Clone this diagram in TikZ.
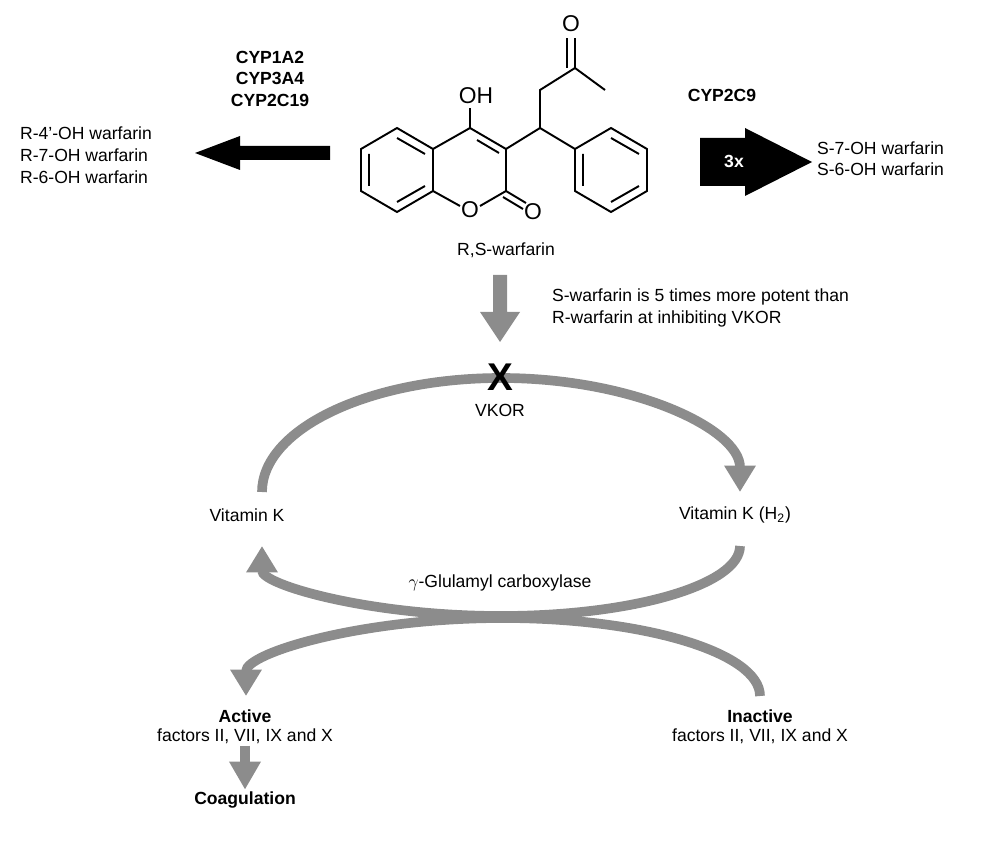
\documentclass[tikz,border=0pt]{standalone}
\usepackage{fontspec}
\setmainfont{Liberation Sans}
\usetikzlibrary{arrows.meta}
\definecolor{cyclegray}{HTML}{8C8C8C}
\tikzset{
  lbl/.style={font=\fontsize{10}{12}\selectfont, inner sep=1pt},
  enz/.style={lbl, font=\fontsize{10}{12}\selectfont\bfseries},
  bond/.style={line width=1.1pt},
  cycle/.style={cyclegray, line width=5.5pt, -{Triangle[length=15pt,width=17pt]}},
}
\begin{document}
\begin{tikzpicture}[x=0.02cm, y=-0.02cm, line join=miter]
\useasboundingbox (0,0) rectangle (1000,847);
% warfarin skeleton
\begin{scope}[bond]
\draw (397,128) -- (433,149) -- (433,191) -- (397,212) -- (361,191) -- (361,149) -- cycle;
\draw (397,138) -- (425,154) (425,186) -- (397,202) (369,186) -- (369,154);
\draw (433,149) -- (470,128) -- (506,149) -- (506,191) -- (480,206);
\draw (460,206) -- (433,191);
\draw (477,140) -- (499,153);
\draw (470,128) -- (470,108);
\draw (506,191) -- (526,203) (503,197) -- (523,209);
\draw (506,149) -- (540,128) -- (540,90) -- (575,68) -- (605,90);
\draw (575,68) -- (575,38) (567,68) -- (567,38);
\draw (540,128) -- (575,149);
\draw (611,128) -- (647,149) -- (647,191) -- (611,212) -- (575,191) -- (575,149) -- cycle;
\draw (583,154) -- (583,186) (611,138) -- (639,154) (639,186) -- (611,202);
\end{scope}
\node[lbl, font=\fontsize{13}{14}\selectfont] (oh) at (476,96) {OH};
\node[lbl, font=\fontsize{13}{14}\selectfont] (ring) at (470,210) {O};
\node[lbl, font=\fontsize{13}{14}\selectfont] (keto) at (533,212) {O};
\node[lbl, font=\fontsize{13}{14}\selectfont] (acyl) at (571,24) {O};
\node[lbl] (warf) at (506,250) {R,S-warfarin};
% metabolism
\node[enz] (cyp1) at (270,57) {CYP1A2};
\node[enz] (cyp3) at (270,78) {CYP3A4};
\node[enz] (cyp19) at (270,100) {CYP2C19};
\node[lbl, anchor=west] (r4) at (18,133) {R-4'-OH warfarin};
\node[lbl, anchor=west] (r7) at (18,155) {R-7-OH warfarin};
\node[lbl, anchor=west] (r6) at (18,177) {R-6-OH warfarin};
\fill (330,146) -- (240,146) -- (240,136) -- (195,153) -- (240,170) -- (240,160) -- (330,160) -- cycle;
\node[enz] (cyp9) at (722,95) {CYP2C9};
\fill (700,138) -- (745,138) -- (745,128) -- (812,162) -- (745,196) -- (745,186) -- (700,186) -- cycle;
\node[enz, white] (times) at (734,161) {3x};
\node[lbl, anchor=west] (s7) at (815,148) {S-7-OH warfarin};
\node[lbl, anchor=west] (s6) at (815,169) {S-6-OH warfarin};
% inhibition
\fill[cyclegray] (493,275) -- (507,275) -- (507,312) -- (520,312) -- (500,342) -- (480,312) -- (493,312) -- cycle;
\node[lbl, anchor=west] (pot1) at (550,297) {S-warfarin is 5 times more potent than};
\node[lbl, anchor=west] (pot2) at (550,319) {R-warfarin at inhibiting VKOR};
% vitamin K cycle
\node[lbl] (vk) at (247,515) {Vitamin K};
\node[lbl] (vkh) at (735,515) {Vitamin K (H\textsubscript{2})};
\draw[cycle] (262,492) arc[start angle=180, end angle=360, x radius=239, y radius=114];
\draw[cycle] (740,546) arc[start angle=0, end angle=180, x radius=239, y radius=70];
\node[font=\fontsize{22}{22}\selectfont\bfseries, inner sep=0pt] (x) at (500,377) {X};
\node[lbl] (vkor) at (500,410) {VKOR};
\node[lbl] (gcarb) at (500,583) {$\gamma$-Glulamyl carboxylase};
% coagulation factors
\draw[cycle] (760,696) arc[start angle=0, end angle=-180, x radius=257, y radius=78];
\node[lbl, font=\fontsize{10}{12}\selectfont\bfseries] (act) at (245,716) {Active};
\node[lbl] (actf) at (245,736) {factors II, VII, IX and X};
\node[lbl, font=\fontsize{10}{12}\selectfont\bfseries] (inact) at (760,716) {Inactive};
\node[lbl] (inactf) at (760,736) {factors II, VII, IX and X};
\node[lbl, font=\fontsize{10}{12}\selectfont\bfseries] (coag) at (245,800) {Coagulation};
\draw[cyclegray, line width=5.5pt, -{Triangle[length=16pt,width=17pt]}] (actf) -- (coag);
\end{tikzpicture}
\end{document}
